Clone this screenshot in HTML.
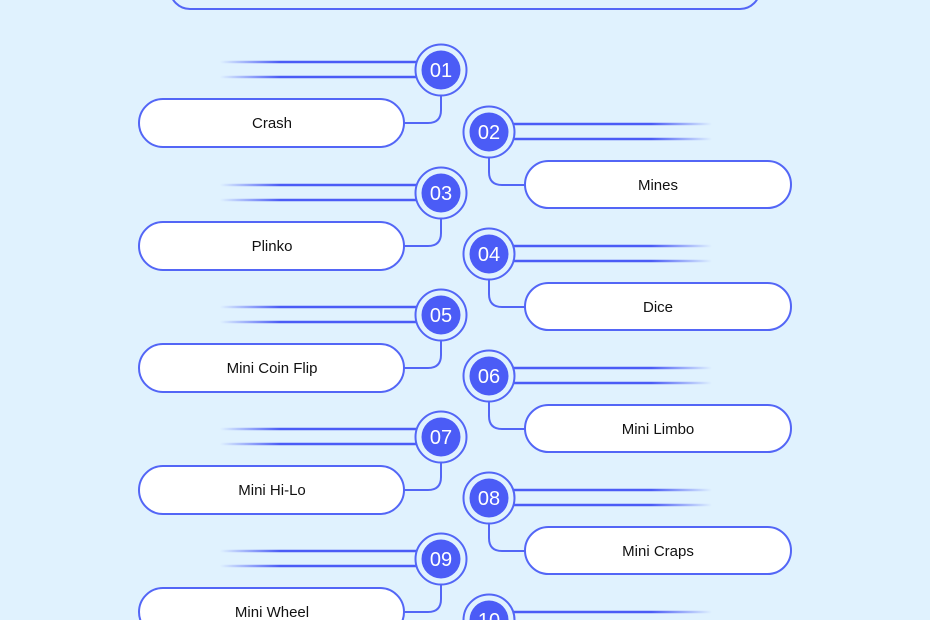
<!DOCTYPE html>
<html><head><meta charset="utf-8"><style>
html,body{margin:0;padding:0;background:#e0f2fe;}
svg{display:block}
text{font-family:"Liberation Sans",sans-serif;}
.n{fill:#fff;font-size:20px;text-anchor:middle;}
.l{fill:#111;font-size:15px;text-anchor:middle;}
</style></head><body>
<svg width="930" height="620" viewBox="0 0 930 620" xmlns="http://www.w3.org/2000/svg">
<defs>
<linearGradient id="gl" x1="220" x2="420" y1="0" y2="0" gradientUnits="userSpaceOnUse"><stop offset="0" stop-color="#4b5cf6" stop-opacity="0"/><stop offset="0.3" stop-color="#4b5cf6"/><stop offset="1" stop-color="#4b5cf6"/></linearGradient>
<linearGradient id="gr" x1="510" x2="712" y1="0" y2="0" gradientUnits="userSpaceOnUse"><stop offset="0" stop-color="#4b5cf6"/><stop offset="0.7" stop-color="#4b5cf6"/><stop offset="1" stop-color="#4b5cf6" stop-opacity="0"/></linearGradient>
<g id="L"><circle r="25.5" fill="#e0f2fe" stroke="#5366f6" stroke-width="2"/><circle r="19.5" fill="#4b5cf6"/><path d="M0,25.5V40Q0,53 -13,53H-37" stroke="#5366f6" stroke-width="2" fill="none"/><rect x="-302" y="29" width="265" height="48" rx="24" fill="#fff" stroke="#5366f6" stroke-width="2"/></g>
</defs>
<rect x="170" y="-40" width="590" height="49" rx="20" fill="#e0f2fe" stroke="#5366f6" stroke-width="2"/>
<g fill="none" stroke-width="2.5" stroke="url(#gl)">
<path d="M220,62H420M220,77H420M220,185H420M220,200H420M220,307H420M220,322H420M220,429H420M220,444H420M220,551H420M220,566H420"/>
</g>
<g fill="none" stroke-width="2.5" stroke="url(#gr)">
<path d="M510,124H712M510,139H712M510,246H712M510,261H712M510,368H712M510,383H712M510,490H712M510,505H712M510,612H712"/>
</g>
<g transform="translate(441,70)"><use href="#L"/><text class="n" y="7">01</text><text class="l" x="-169" y="58">Crash</text></g>
<g transform="translate(441,193)"><use href="#L"/><text class="n" y="7">03</text><text class="l" x="-169" y="58">Plinko</text></g>
<g transform="translate(441,315)"><use href="#L"/><text class="n" y="7">05</text><text class="l" x="-169" y="58">Mini Coin Flip</text></g>
<g transform="translate(441,437)"><use href="#L"/><text class="n" y="7">07</text><text class="l" x="-169" y="58">Mini Hi-Lo</text></g>
<g transform="translate(441,559)"><use href="#L"/><text class="n" y="7">09</text><text class="l" x="-169" y="58">Mini Wheel</text></g>
<g transform="translate(489,132)"><circle r="25.5" fill="#e0f2fe" stroke="#5366f6" stroke-width="2"/><circle r="19.5" fill="#4b5cf6"/><path d="M0,25.5V40Q0,53 13,53H36" stroke="#5366f6" stroke-width="2" fill="none"/><rect x="36" y="29" width="266" height="47" rx="23.5" fill="#fff" stroke="#5366f6" stroke-width="2"/><text class="n" y="7">02</text><text class="l" x="169" y="58">Mines</text></g>
<g transform="translate(489,254)"><circle r="25.5" fill="#e0f2fe" stroke="#5366f6" stroke-width="2"/><circle r="19.5" fill="#4b5cf6"/><path d="M0,25.5V40Q0,53 13,53H36" stroke="#5366f6" stroke-width="2" fill="none"/><rect x="36" y="29" width="266" height="47" rx="23.5" fill="#fff" stroke="#5366f6" stroke-width="2"/><text class="n" y="7">04</text><text class="l" x="169" y="58">Dice</text></g>
<g transform="translate(489,376)"><circle r="25.5" fill="#e0f2fe" stroke="#5366f6" stroke-width="2"/><circle r="19.5" fill="#4b5cf6"/><path d="M0,25.5V40Q0,53 13,53H36" stroke="#5366f6" stroke-width="2" fill="none"/><rect x="36" y="29" width="266" height="47" rx="23.5" fill="#fff" stroke="#5366f6" stroke-width="2"/><text class="n" y="7">06</text><text class="l" x="169" y="58">Mini Limbo</text></g>
<g transform="translate(489,498)"><circle r="25.5" fill="#e0f2fe" stroke="#5366f6" stroke-width="2"/><circle r="19.5" fill="#4b5cf6"/><path d="M0,25.5V40Q0,53 13,53H36" stroke="#5366f6" stroke-width="2" fill="none"/><rect x="36" y="29" width="266" height="47" rx="23.5" fill="#fff" stroke="#5366f6" stroke-width="2"/><text class="n" y="7">08</text><text class="l" x="169" y="58">Mini Craps</text></g>
<g transform="translate(489,620)"><circle r="25.5" fill="#e0f2fe" stroke="#5366f6" stroke-width="2"/><circle r="19.5" fill="#4b5cf6"/><text class="n" y="7">10</text></g>
</svg>
</body></html>
